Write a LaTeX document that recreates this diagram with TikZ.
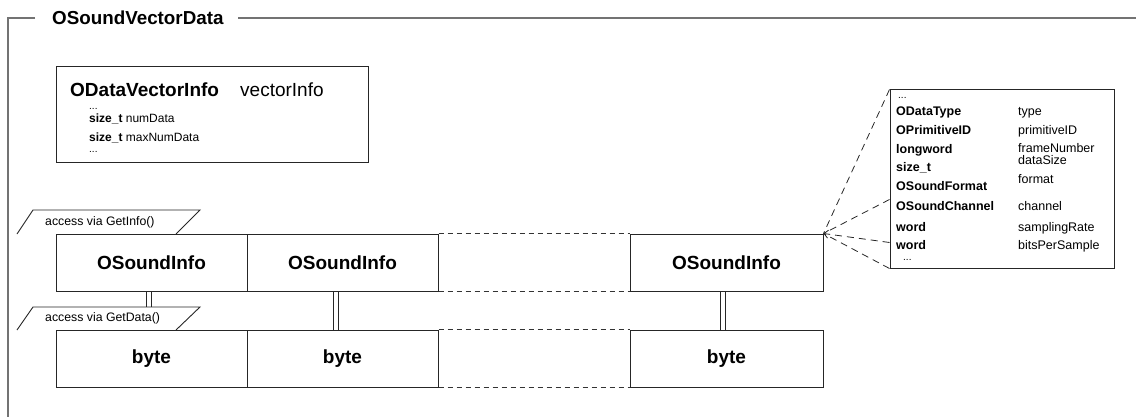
\documentclass[tikz,border=0pt]{standalone}
\usepackage{fontspec}
\setmainfont{Liberation Sans}
\usetikzlibrary{arrows.meta,calc}
\begin{document}
\begin{tikzpicture}[x=1pt,y=-1pt,
  frameline/.style={draw=black!55, line width=1.3pt},
  boxline/.style={draw=black!85, line width=1pt},
  cell/.style={boxline, rectangle, inner sep=0pt, minimum height=57pt, font=\fontsize{19}{21}\selectfont\bfseries},
  gapline/.style={draw=black!80, line width=1pt, dash pattern=on 5pt off 4pt},
  infoline/.style={draw=black!85, line width=0.8pt, dash pattern=on 7pt off 5pt},
  rail/.style={draw=black!85, line width=0.9pt},
  sm/.style={font=\fontsize{12.5}{14}\selectfont, inner sep=0pt, anchor=base west},
  smb/.style={sm, font=\fontsize{12.5}{14}\selectfont\bfseries},
  vi/.style={font=\fontsize{12}{14}\selectfont, inner sep=0pt, anchor=base west},
  slanted/.style={boxline, line width=0.9pt}
]
\useasboundingbox (0,0) rectangle (1136,417);
% frame
\node[anchor=west, inner sep=0pt, font=\fontsize{18.8}{21}\selectfont\bfseries] (title) at (52,18) {OSoundVectorData};
\draw[frameline] (35,18) -- (8,18) -- (8,417);
\draw[frameline] (238,18) -- (1136,18);

% vector info box
\node[boxline, rectangle, minimum width=312pt, minimum height=96pt, inner sep=0pt] (vbox) at (212,115) {};
\node[anchor=base west, inner sep=0pt, font=\fontsize{19}{21}\selectfont\bfseries] (vt) at (70,97) {ODataVectorInfo};
\node[anchor=base west, inner sep=0pt, font=\fontsize{19}{21}\selectfont] (vn) at (240,97) {vectorInfo};
\node[vi, font=\fontsize{10}{12}\selectfont] (vd1) at (89,110) {...};
\node[vi] (v1) at (89,123) {\textbf{size\_t} numData};
\node[vi] (v2) at (89,142) {\textbf{size\_t} maxNumData};
\node[vi, font=\fontsize{10}{12}\selectfont] (vd2) at (89,153) {...};

% parallelogram labels
\draw[slanted] (17,234) -- (33,210) -- (200,210) -- (176,234);
\node[anchor=west, inner sep=0pt, font=\fontsize{12.3}{14}\selectfont] (l1) at (45,222) {access via GetInfo()};
\draw[slanted] (17,330) -- (33,307) -- (200,307) -- (176,330);
\node[anchor=west, inner sep=0pt, font=\fontsize{12.3}{14}\selectfont] (l2) at (45,318.5) {access via GetData()};

% info cells
\node[cell, minimum width=191pt] (a1) at (151.5,262.5) {OSoundInfo};
\node[cell, minimum width=191pt] (a2) at (342.5,262.5) {OSoundInfo};
\node[cell, minimum width=193pt] (a3) at (726.5,262.5) {OSoundInfo};
% byte cells
\node[cell, minimum width=191pt] (b1) at (151.5,358.5) {byte};
\node[cell, minimum width=191pt] (b2) at (342.5,358.5) {byte};
\node[cell, minimum width=193pt] (b3) at (726.5,358.5) {byte};

% gaps
\draw[gapline] (a2.north east) -- (a3.north west);
\draw[gapline] (a2.south east) -- (a3.south west);
\draw[gapline] (b2.north east) -- (b3.north west);
\draw[gapline] (b2.south east) -- (b3.south west);

% double connectors (two rails each)
\coordinate (c1a) at (149,291);   \coordinate (c1b) at (149,307);
\coordinate (c2a) at (336,291);   \coordinate (c2b) at (336,330);
\coordinate (c3a) at (723,291);   \coordinate (c3b) at (723,330);
\foreach \c in {1,2,3} {
  \draw[rail] ([xshift=-2.5pt]c\c a) -- ([xshift=-2.5pt]c\c b);
  \draw[rail] ([xshift=2.5pt]c\c a) -- ([xshift=2.5pt]c\c b);
}

% info detail box
\node[boxline, rectangle, minimum width=224pt, minimum height=178pt, inner sep=0pt] (ib) at (1002,179) {};
\node[sm, font=\fontsize{10}{12}\selectfont] (d0) at (898,99) {...};
\node[smb] (k1) at (896,116) {ODataType};
\node[smb] (k2) at (896,135) {OPrimitiveID};
\node[smb] (k3) at (896,154) {longword};
\node[smb] (k4) at (896,172) {size\_t};
\node[smb] (k5) at (896,191) {OSoundFormat};
\node[smb] (k6) at (896,211) {OSoundChannel};
\node[smb] (k7) at (896,231) {word};
\node[smb] (k8) at (896,249) {word};
\node[sm, font=\fontsize{10}{12}\selectfont] (d9) at (903,260) {...};
\node[sm] (n1) at (1018,116) {type};
\node[sm] (n2) at (1018,135) {primitiveID};
\node[sm] (n3) at (1018,153) {frameNumber};
\node[sm] (n4) at (1018,165) {dataSize};
\node[sm] (n5) at (1018,184) {format};
\node[sm] (n6) at (1018,211) {channel};
\node[sm] (n7) at (1018,231) {samplingRate};
\node[sm] (n8) at (1018,249) {bitsPerSample};

% info connectors
\draw[infoline] (ib.north west) -- (a3.north east);
\draw[infoline] ([yshift=-110pt]ib.north west) -- (a3.north east);
\draw[infoline, -{Straight Barb[length=4pt,width=8pt]}] ([yshift=-153pt]ib.north west) -- (a3.north east);
\draw[infoline] (ib.south west) -- (a3.north east);
\end{tikzpicture}
\end{document}
